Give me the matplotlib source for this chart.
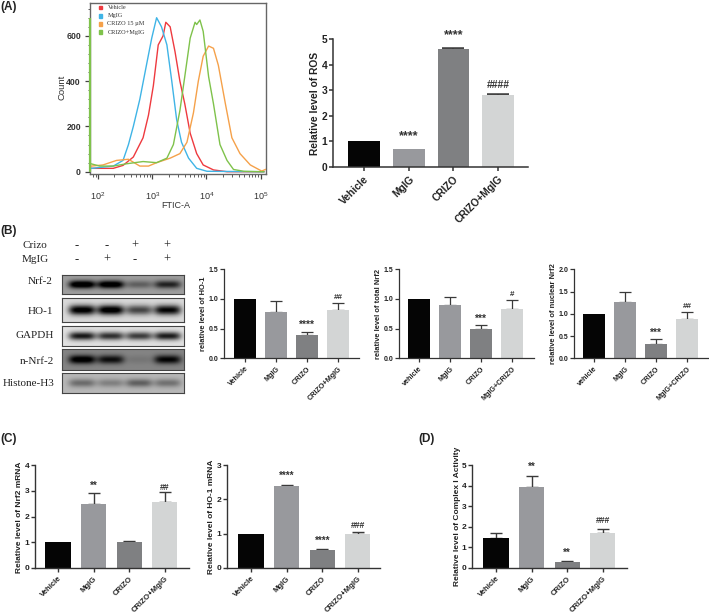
import numpy as np
import matplotlib
matplotlib.use("Agg")
import matplotlib.pyplot as plt
from matplotlib.ticker import FixedLocator, NullFormatter

W, H = 709, 614
SANS = "Liberation Sans"
SERIF = "Liberation Serif"
plt.rcParams["font.family"] = SANS

# ---------- flow histogram data (log10 intensity, count) ----------
red_x = [1.88, 2.28, 2.46, 2.65, 2.83, 2.93, 3.02, 3.11, 3.20, 3.25, 3.33, 3.42, 3.51, 3.60, 3.70, 3.82, 3.94, 4.13, 4.38, 5.06]
red_y = [15, 15, 28, 65, 150, 250, 380, 560, 600, 660, 640, 530, 400, 300, 170, 80, 30, 8, 0, 0]
blue_x = [1.88, 2.28, 2.46, 2.56, 2.65, 2.77, 2.90, 2.99, 3.08, 3.17, 3.27, 3.36, 3.45, 3.54, 3.67, 3.82, 4.01, 5.06]
blue_y = [15, 25, 50, 120, 200, 320, 480, 590, 680, 640, 560, 400, 230, 130, 60, 15, 2, 0]
orange_x = [1.88, 2.09, 2.34, 2.56, 2.77, 2.93, 3.08, 3.33, 3.51, 3.64, 3.76, 3.85, 3.94, 4.04, 4.13, 4.22, 4.35, 4.47, 4.62, 4.81, 5.02, 5.09]
orange_y = [25, 30, 50, 55, 25, 25, 40, 60, 80, 130, 260, 400, 510, 555, 545, 470, 300, 150, 80, 30, 3, 10]
green_x = [1.87, 2.03, 2.28, 2.52, 2.83, 3.08, 3.27, 3.39, 3.51, 3.60, 3.70, 3.79, 3.82, 3.88, 3.94, 4.04, 4.13, 4.25, 4.38, 4.50, 4.69, 5.06]
green_y = [35, 25, 25, 35, 45, 40, 60, 120, 270, 420, 590, 660, 650, 670, 620, 420, 300, 120, 50, 10, 2, 0]
green_first_bin = 680
flow_names = ["Vehicle", "MgIG", "CRIZO 15 \u00b5M", "CRIZO+MgIG"]
flow_colors = ["#ee3a3f", "#3fb4e6", "#f5a14a", "#7fc24b"]

# ---------- bar panels ----------
vals_ros = [1.0, 0.72, 4.6, 2.82]
errs_ros = [0.0, 0.0, 0.06, 0.03]
vals_ho1 = [1.0, 0.78, 0.39, 0.81]
errs_ho1 = [0.0, 0.18, 0.06, 0.13]
vals_tot = [1.0, 0.90, 0.50, 0.83]
errs_tot = [0.0, 0.13, 0.06, 0.15]
vals_nuc = [1.0, 1.27, 0.33, 0.88]
errs_nuc = [0.0, 0.22, 0.10, 0.17]
vals_nrf = [1.0, 2.5, 1.0, 2.55]
errs_nrf = [0.0, 0.40, 0.05, 0.40]
vals_hom = [1.0, 2.38, 0.53, 1.0]
errs_hom = [0.0, 0.04, 0.02, 0.05]
vals_cpx = [1.45, 3.95, 0.30, 1.72]
errs_cpx = [0.25, 0.52, 0.03, 0.18]
labels_a = ["Vehicle", "MgIG", "CRIZO", "CRIZO+MgIG"]
labels_b = ["vehicle", "MgIG", "CRIZO", "MgIG+CRIZO"]
bar_colors = ["#050505", "#98999d", "#7f8082", "#d3d5d5"]

# ---------- blots ----------
blot_names = ["Nrf-2", "HO-1", "GAPDH", "n-Nrf-2", "Histone-H3"]
blot_bands = [[0.78, 0.75, 0.25, 0.50],
              [0.92, 0.95, 0.58, 0.85],
              [0.80, 0.70, 0.65, 0.78],
              [0.60, 0.48, 0.06, 0.52],
              [0.30, 0.22, 0.35, 0.28]]
blot_bg = [0.62, 0.85, 0.88, 0.52, 0.72]
crizo_signs = ["-", "-", "+", "+"]
mgig_signs = ["-", "+", "-", "+"]

fig = plt.figure(figsize=(W / 100, H / 100), dpi=100)


def box(l, r, b, t):
    return fig.add_axes([l / W, 1 - b / H, (r - l) / W, (b - t) / H])


def px_text(x, y, s, **kw):
    fig.text(x / W, 1 - y / H, s, **kw)


def bars(l, r, b, t, first, step, vals, errs, ymax, yticks, yfmt, ylabel, xlabels,
         notes, fs, xfs, star_fs, hash_fs, cap, lw=1.0, ylab_x=-0.1, ylab_y=0.5, ytick_fs=None):
    ax = box(l, r, b, t)
    ax.patch.set_alpha(0)
    xs = np.arange(len(vals))
    ax.bar(xs, vals, width=0.71, color=bar_colors, zorder=2)
    for x, v, e in zip(xs, vals, errs):
        if e > 0:
            ax.errorbar(x, v, yerr=[[0], [e]], color="#3a3a3a", capsize=cap,
                        elinewidth=lw, capthick=lw, zorder=1)
    ax.set_xlim((l - first) / step, (r - first) / step)
    ax.set_ylim(0, ymax)
    ax.set_yticks(yticks)
    ax.set_yticklabels([yfmt % v for v in yticks], fontsize=ytick_fs or fs, fontweight="bold", color="#222222")
    ax.set_xticks(xs)
    ax.set_xticklabels(xlabels, rotation=45, ha="right", rotation_mode="anchor",
                       fontsize=xfs, fontweight="bold", color="#222222")
    for sp in ("top", "right"):
        ax.spines[sp].set_visible(False)
    for sp in ("left", "bottom"):
        ax.spines[sp].set_linewidth(lw)
        ax.spines[sp].set_color("#333333")
    ax.tick_params(length=3, width=lw, color="#333333", pad=2)
    ax.tick_params(axis="y", pad=1)
    ax.set_ylabel(ylabel, fontsize=fs, fontweight="bold", color="#222222")
    ax.yaxis.set_label_coords(ylab_x, ylab_y)
    for x, (s, y) in zip(xs, notes):
        if s:
            is_star = s[0] == "*"
            ax.text(x, y, s, ha="center", va="center", fontsize=star_fs if is_star else hash_fs,
                    color="#333333", clip_on=False, fontweight="bold")
    return ax


# ---------- (A) flow ----------
ax = box(90, 266, 174, 3)
for xl, yl, c in zip([red_x, blue_x, orange_x, green_x], [red_y, blue_y, orange_y, green_y], flow_colors):
    ax.plot(np.power(10.0, xl), yl, color=c, lw=1.0, zorder=3)
ax.set_xscale("log")
ax.set_xlim(10 ** 1.85, 10 ** 5.10)
ax.set_ylim(-10, 745)
ax.vlines(10 ** 1.855, 0, green_first_bin, color=flow_colors[3], lw=1.6, zorder=4, clip_on=False)
ax.set_yticks([0, 200, 400, 600])
ax.set_yticklabels(["0", "200", "400", "600"], fontsize=6.3, fontweight="bold", color="#333333")
ax.yaxis.set_minor_locator(FixedLocator(np.arange(0, 721, 40)))
ax.xaxis.set_major_locator(FixedLocator([1e2, 1e3, 1e4, 1e5]))
ax.xaxis.set_minor_locator(FixedLocator([m * 10 ** e for e in (1, 2, 3, 4) for m in range(2, 10)
                                         if 10 ** 1.85 < m * 10 ** e < 10 ** 5.1]))
ax.xaxis.set_minor_formatter(NullFormatter())
ax.set_xticklabels(["$\\mathdefault{10^{2}}$", "$\\mathdefault{10^{3}}$", "$\\mathdefault{10^{4}}$", "$\\mathdefault{10^{5}}$"],
                   fontsize=6.5, color="#333333")
ax.tick_params(axis="both", which="major", length=3.5, width=0.9, color="#444444", pad=3)
ax.tick_params(axis="both", which="minor", length=1.8, width=0.6, color="#444444")
ax.tick_params(axis="x", pad=8)
for sp in ax.spines.values():
    sp.set_color("#666666")
    sp.set_linewidth(1.0)
px_text(176, 206, "FTIC-A", fontsize=6.5, color="#333333", ha="center", va="center")
px_text(62, 87, "Count", fontsize=6.8, color="#333333", ha="center", va="center", rotation=90)
for i, (n, c) in enumerate(zip(flow_names, flow_colors)):
    yy = 7.5 + i * 8.2
    fig.patches.append(plt.Rectangle((98.5 / W, 1 - (yy + 1.8) / H), 3.6 / W, 3.6 / H,
                                     transform=fig.transFigure, color=c))
    px_text(107.5, yy, n, fontsize=4.5, family=SERIF, color="#333333", ha="left", va="center")

# ---------- (A) ROS ----------
bars(333, 528, 167, 39, 364, 44.7, vals_ros, errs_ros, 5, [0, 1, 2, 3, 4, 5], "%d",
     "Relative level of ROS", labels_a,
     [("", 0), ("****", 1.2), ("****", 5.15), ("####", 3.2)],
     7.4, 7.4, 9, 7.5, 8, lw=1.1, ylab_x=-0.067)

# ---------- (B) blots ----------
blot_tops = [275, 298, 326, 349, 373]
blot_bots = [294, 322, 346, 370, 393]
for top, bot, bands, bg in zip(blot_tops, blot_bots, blot_bands, blot_bg):
    a = box(62, 184, bot, top)
    xx, yy = np.meshgrid(np.linspace(-0.7, 3.6, 200), np.linspace(-1, 1, 40))
    img = np.full_like(xx, bg)
    for k, amp in enumerate(bands):
        img -= amp * np.exp(-((xx - k) / 0.47) ** 4) * np.exp(-(yy / 0.42) ** 2)
    a.imshow(np.clip(img, 0, 1), cmap="gray", vmin=0, vmax=1, aspect="auto",
             extent=[-0.7, 3.6, -1, 1], interpolation="bilinear")
    a.set_xticks([])
    a.set_yticks([])
    for sp in a.spines.values():
        sp.set_color("#444444")
        sp.set_linewidth(0.8)

name_x = [40, 40, 35, 37, 29]
name_y = [282, 311, 336, 361, 383]
for x, y, n in zip(name_x, name_y, blot_names):
    px_text(x, y, n, fontsize=8, family=SERIF, color="#222222", ha="center", va="center")
px_text(34.5, 246, "Crizo", fontsize=8, family=SERIF, color="#222222", ha="center", va="center")
px_text(35.5, 260, "MgIG", fontsize=8, family=SERIF, color="#222222", ha="center", va="center")
for x, s1, s2 in zip([77, 107, 135, 167], crizo_signs, mgig_signs):
    px_text(x, 246, s1, fontsize=9, family=SERIF, color="#222222", ha="center", va="center")
    px_text(x, 260, s2, fontsize=9, family=SERIF, color="#222222", ha="center", va="center")

# ---------- (B) bars ----------
bars(224, 359, 358.3, 269.3, 245, 31, vals_ho1, errs_ho1, 1.5, [0, 0.5, 1.0, 1.5], "%.1f",
     "relative level of HO-1", labels_a,
     [("", 0), ("", 0), ("****", 0.56), ("##", 1.02)],
     5.4, 5.2, 7.4, 5.8, 4.3, lw=0.9, ylab_x=-0.125, ytick_fs=5.0)
bars(399, 534, 358.3, 269.3, 419, 31, vals_tot, errs_tot, 1.5, [0, 0.5, 1.0, 1.5], "%.1f",
     "relative level of total Nrf2", labels_b,
     [("", 0), ("", 0), ("***", 0.66), ("#", 1.08)],
     5.4, 5.2, 7.4, 5.8, 4.3, lw=0.9, ylab_x=-0.125, ytick_fs=5.0)
bars(574, 709, 358.3, 269.3, 594, 31, vals_nuc, errs_nuc, 2.0, [0, 0.5, 1.0, 1.5, 2.0], "%.1f",
     "relative level of nuclear Nrf2", labels_b,
     [("", 0), ("", 0), ("***", 0.58), ("##", 1.17)],
     5.4, 5.2, 7.4, 5.8, 4.3, lw=0.9, ylab_x=-0.125, ytick_fs=5.0)

# ---------- (C) ----------
bars(35, 189, 568, 465, 58, 35.6, vals_nrf, errs_nrf, 4, [0, 1, 2, 3, 4], "%d",
     "Relative level of Nrf2 mRNA", labels_a,
     [("", 0), ("**", 3.18), ("", 0), ("##", 3.13)],
     6.0, 5.6, 7.0, 6.2, 4.3, lw=1.0, ylab_x=-0.078, ylab_y=0.495)
bars(227, 380, 568, 465, 251, 35.6, vals_hom, errs_hom, 3, [0, 1, 2, 3], "%d",
     "Relative level of HO-1 mRNA", labels_a,
     [("", 0), ("****", 2.68), ("****", 0.80), ("###", 1.25)],
     6.0, 5.6, 7.0, 6.2, 4.3, lw=1.0, ylab_x=-0.08, ylab_y=0.498)

# ---------- (D) ----------
bars(472, 627, 568, 465, 496, 35.6, vals_cpx, errs_cpx, 5, [0, 1, 2, 3, 4, 5], "%d",
     "Relative level of Complex I Activity", labels_a,
     [("", 0), ("**", 4.9), ("**", 0.72), ("###", 2.33)],
     6.0, 5.6, 7.0, 6.2, 4.3, lw=1.0, ylab_x=-0.07, ylab_y=0.498)

# ---------- panel letters ----------
for x, y, s in zip([0, 0, 0, 418], [7, 231, 439, 439], ["(A)", "(B)", "(C)", "(D)"]):
    px_text(x, y, s, fontsize=8.5, fontweight="bold", color="#222222", ha="left", va="center")

fig.savefig("out.png", dpi=100)
